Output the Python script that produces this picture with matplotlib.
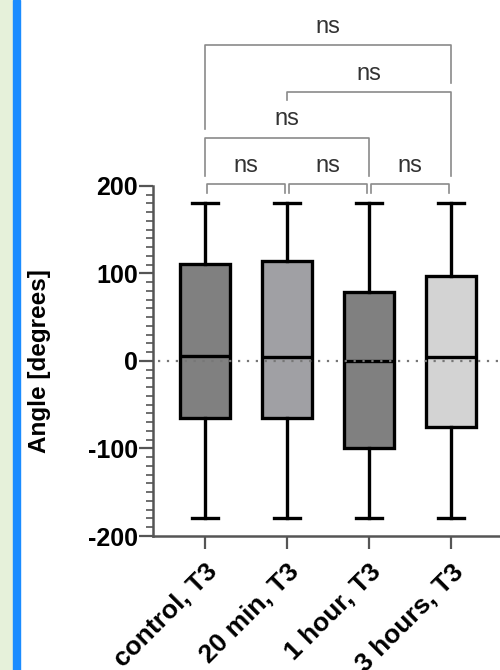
import matplotlib.pyplot as plt
from matplotlib.patches import Rectangle
from matplotlib.ticker import MultipleLocator

plt.rcParams['font.family'] = ['Liberation Sans', 'DejaVu Sans']
plt.rcParams['axes.unicode_minus'] = False

# box statistics (degrees)
groups = ['control, T3', '20 min, T3', '1 hour, T3', '3 hours, T3']
medians = [6, 4, 0, 4]
q1 = [-65, -65, -99, -76]
q3 = [111, 114, 79, 97]
whisk_lo = [-180, -180, -180, -180]
whisk_hi = [180, 180, 180, 180]
box_colors = ['#808080', '#a0a0a4', '#808080', '#d3d3d3']

# pairwise comparisons (group index pairs) and their labels
pairs = [(0, 1), (1, 2), (2, 3), (0, 2), (1, 3), (0, 3)]
sig = ['ns', 'ns', 'ns', 'ns', 'ns', 'ns']

fig = plt.figure(figsize=(5.0, 6.7), dpi=100)
# left edge decoration: light green strip + blue bar
fig.patches.append(Rectangle((0, 0), 0.028, 1, transform=fig.transFigure,
                             color='#e6f1da', zorder=0))
fig.patches.append(Rectangle((0.026, 0), 0.014, 1, transform=fig.transFigure,
                             color='#1a8cff', zorder=0))

ax = fig.add_axes([0.306, 0.2, 0.72, 0.5224])

stats = []
for i, name in enumerate(groups):
    stats.append(dict(label=name, med=medians[i], q1=q1[i], q3=q3[i],
                      whislo=whisk_lo[i], whishi=whisk_hi[i], fliers=[]))

pos = list(range(len(groups)))
bp = ax.bxp(stats, positions=pos, widths=0.62, patch_artist=True,
            showfliers=False,
            boxprops=dict(linewidth=2.4, edgecolor='black'),
            whiskerprops=dict(linewidth=2.4, color='black'),
            capprops=dict(linewidth=2.4, color='black'),
            medianprops=dict(linewidth=2.4, color='black'),
            capwidths=0.32)
for patch, c in zip(bp['boxes'], box_colors):
    patch.set_facecolor(c)

ax.axhline(0, xmin=0.015, color='#777777', linestyle=(0, (1, 3)),
           linewidth=1.6, zorder=3)

ax.set_xlim(-0.634, 3.756)
ax.set_ylim(-200, 200)
ax.set_yticks([-200, -100, 0, 100, 200])
ax.yaxis.set_minor_locator(MultipleLocator(10))
ax.set_xticks(pos)
ax.set_xticklabels(groups, rotation=45, ha='right', va='top',
                   rotation_mode='anchor', fontsize=19, fontweight='bold')
for lab in ax.get_yticklabels():
    lab.set_fontweight('bold')
ax.tick_params(axis='y', which='major', labelsize=18, length=10, width=1.6,
               color='#555555', pad=1)
ax.tick_params(axis='y', which='minor', length=5, width=1.2, color='#555555')
ax.tick_params(axis='x', which='major', length=9, width=1.6, color='#555555',
               pad=8)
ax.set_ylabel('Angle [degrees]', fontsize=17.5, fontweight='bold', labelpad=26)

for side in ['top', 'right']:
    ax.spines[side].set_visible(False)
for side in ['left', 'bottom']:
    ax.spines[side].set_linewidth(1.8)
    ax.spines[side].set_color('#555555')

# significance brackets
bar_y = [202, 202, 202, 255, 307, 361]
leg_lo = [(192, 192), (192, 192), (192, 192), (211, 211), (298, 211), (265, 318)]
gap = [0.03, 0.03, 0.03, 0, 0, 0]
for k, (i, j) in enumerate(pairs):
    x0, x1 = i + gap[k], j - gap[k]
    y = bar_y[k]
    ax.plot([x0, x0, x1, x1], [leg_lo[k][0], y, y, leg_lo[k][1]],
            color='#8a8a8a', linewidth=1.2, clip_on=False)
    ax.text((i + j) / 2, y + 21, sig[k], ha='center', va='center',
            fontsize=17, color='#333333', clip_on=False)

fig.savefig('out.png', dpi=100)
